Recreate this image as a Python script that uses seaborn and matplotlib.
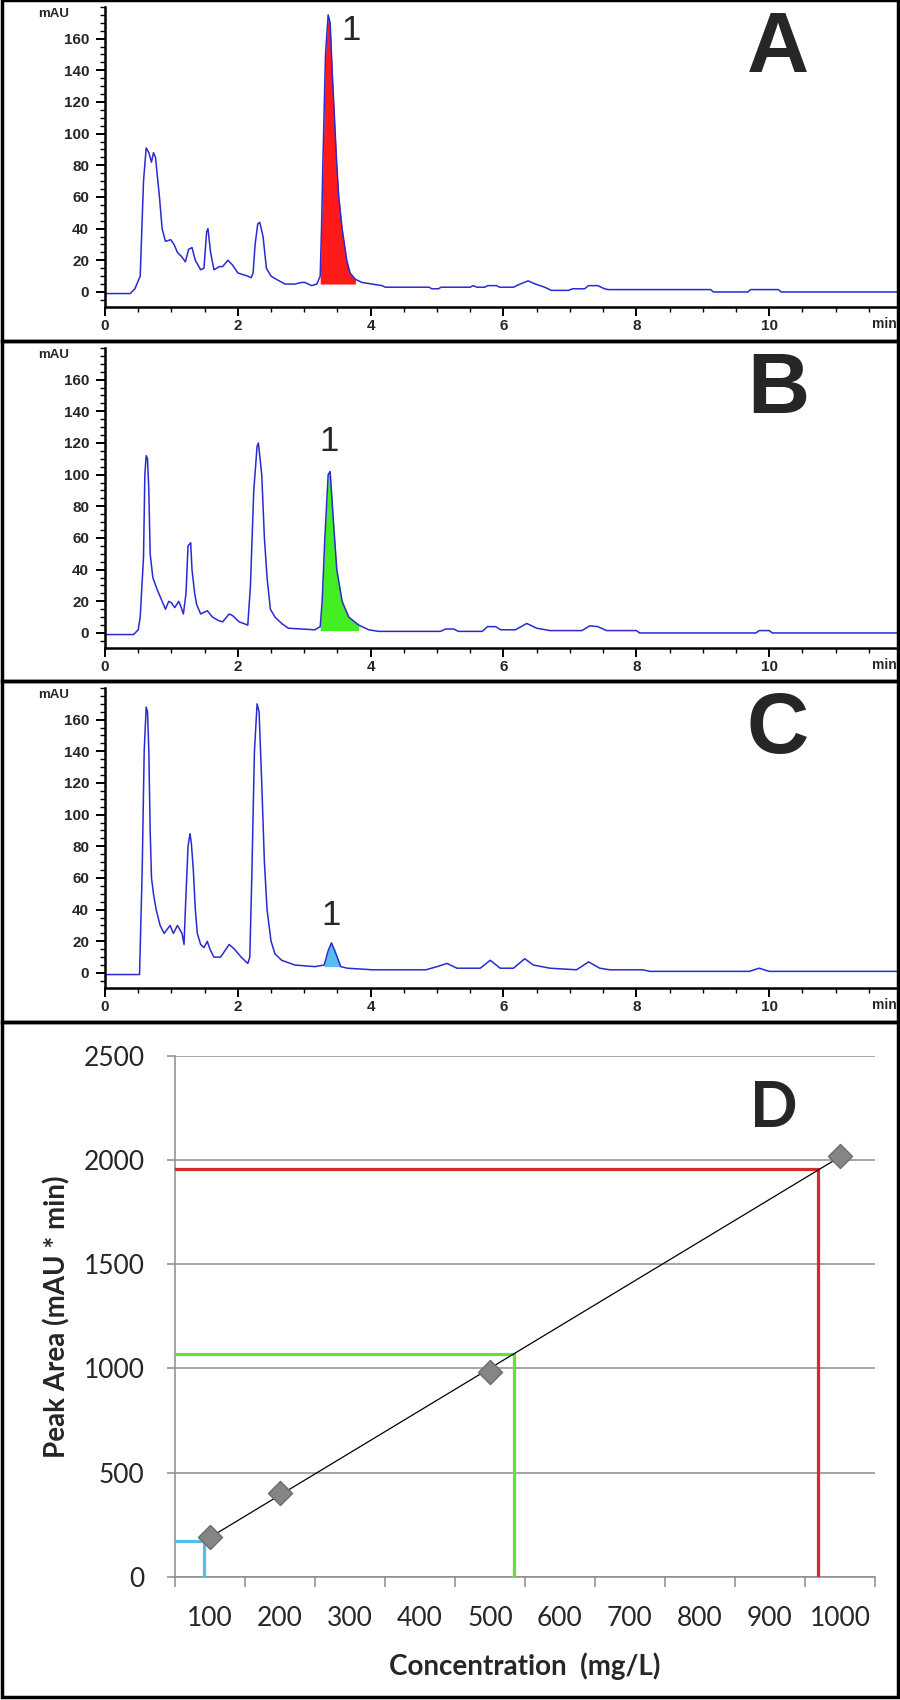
import numpy as np
import matplotlib
matplotlib.use("Agg")
import matplotlib.pyplot as plt
import matplotlib.ticker as mticker
from matplotlib.patches import Rectangle
import seaborn as sns

# chromatograms, (time min, absorbance mAU)
trace_a = [(0, -1), (0.38, -1), (0.45, 2), (0.53, 10), (0.58, 70), (0.62, 91), (0.66, 88),
           (0.70, 82), (0.73, 88), (0.76, 85), (0.82, 60), (0.86, 40), (0.91, 32), (0.99, 33),
           (1.04, 30), (1.09, 25), (1.16, 22), (1.21, 19), (1.26, 27), (1.31, 28), (1.36, 20),
           (1.44, 14), (1.49, 15), (1.53, 38), (1.55, 40), (1.59, 25), (1.64, 14), (1.72, 16),
           (1.77, 16), (1.85, 20), (1.92, 17), (2.00, 12), (2.15, 10), (2.20, 9), (2.23, 12),
           (2.26, 30), (2.30, 43), (2.33, 44), (2.38, 35), (2.43, 15), (2.50, 10), (2.58, 8),
           (2.71, 5), (2.86, 5), (2.96, 6), (3.01, 6), (3.11, 4), (3.19, 5), (3.24, 10),
           (3.26, 40), (3.28, 80), (3.32, 150), (3.36, 175), (3.39, 170), (3.42, 140),
           (3.49, 80), (3.52, 60), (3.57, 40), (3.64, 20), (3.69, 12), (3.77, 8), (3.87, 6),
           (4.02, 5), (4.17, 4), (4.22, 3), (4.88, 3), (4.92, 2), (5.02, 2), (5.06, 3),
           (5.50, 3), (5.54, 4), (5.60, 3), (5.72, 3), (5.76, 4), (5.90, 4), (5.94, 3),
           (6.15, 3), (6.25, 5), (6.37, 7), (6.48, 5), (6.62, 3), (6.72, 1), (6.98, 1),
           (7.04, 2), (7.22, 2), (7.28, 4), (7.42, 4), (7.52, 2), (7.58, 1.5), (9.12, 1.5),
           (9.16, 0), (9.68, 0), (9.72, 1.5), (10.14, 1.5), (10.18, 0), (12.1, 0)]

trace_b = [(0, -1), (0.43, -1), (0.50, 2), (0.53, 10), (0.58, 48), (0.60, 100), (0.62, 112),
           (0.64, 110), (0.66, 90), (0.68, 50), (0.72, 35), (0.78, 28), (0.86, 20), (0.91, 15),
           (0.96, 20), (1.00, 19), (1.05, 16), (1.11, 20), (1.14, 17), (1.18, 12), (1.22, 25),
           (1.25, 55), (1.29, 57), (1.31, 40), (1.35, 25), (1.38, 18), (1.44, 12), (1.54, 14),
           (1.62, 10), (1.70, 8), (1.77, 7), (1.87, 12), (1.92, 11), (2.02, 7), (2.15, 5),
           (2.19, 30), (2.24, 90), (2.29, 118), (2.31, 120), (2.36, 100), (2.40, 60),
           (2.44, 35), (2.49, 15), (2.56, 10), (2.66, 6), (2.76, 3), (3.16, 2), (3.24, 4),
           (3.27, 20), (3.31, 60), (3.36, 100), (3.39, 102), (3.44, 70), (3.49, 40),
           (3.57, 20), (3.67, 10), (3.82, 5), (3.97, 2), (4.12, 1), (5.05, 1), (5.13, 2.5),
           (5.25, 2.5), (5.32, 1), (5.68, 1), (5.76, 4), (5.88, 4), (5.96, 2), (6.18, 2),
           (6.35, 6), (6.50, 3), (6.70, 1.5), (7.18, 1.5), (7.30, 4.5), (7.42, 4), (7.55, 1.5),
           (8.00, 1.5), (8.05, 0), (9.80, 0), (9.85, 1.5), (10.00, 1.5), (10.05, 0), (12.1, 0)]

trace_c = [(0, -1), (0.52, -1), (0.56, 65), (0.59, 140), (0.62, 168), (0.64, 165), (0.66, 140),
           (0.68, 90), (0.70, 60), (0.73, 50), (0.77, 40), (0.83, 30), (0.89, 25), (0.98, 30),
           (1.03, 25), (1.09, 30), (1.16, 25), (1.19, 18), (1.21, 40), (1.25, 80), (1.28, 88),
           (1.30, 82), (1.33, 65), (1.36, 40), (1.39, 25), (1.44, 18), (1.49, 16), (1.54, 20),
           (1.58, 15), (1.64, 10), (1.74, 10), (1.87, 18), (1.95, 15), (2.05, 10), (2.15, 6),
           (2.18, 10), (2.21, 60), (2.25, 140), (2.29, 170), (2.32, 165), (2.36, 120),
           (2.40, 70), (2.44, 40), (2.50, 20), (2.56, 12), (2.66, 8), (2.86, 5), (3.16, 4),
           (3.30, 5), (3.36, 14), (3.41, 19), (3.46, 14), (3.55, 4), (3.65, 3), (4.03, 2),
           (4.83, 2), (5.00, 4), (5.15, 6), (5.30, 3), (5.65, 3), (5.80, 8), (5.95, 3),
           (6.15, 3), (6.32, 9), (6.45, 5), (6.70, 3), (7.10, 2), (7.28, 7), (7.45, 3),
           (7.60, 2), (8.10, 2), (8.20, 1), (9.70, 1), (9.85, 3), (10.00, 1), (12.1, 1)]

# integrated peak 1: (start, end, baseline)
peak_a = (3.21, 3.84, 5)
peak_b = (3.22, 3.90, 1.5)
peak_c = (3.30, 3.56, 4)

# calibration
conc_labels = ["100", "200", "300", "400", "500", "600", "700", "800", "900", "1000"]
std_conc = ["100", "200", "500", "1000"]
std_area = [190, 403, 985, 2020]
sample_area = [172, 1071, 1958]
sample_pos = [0.91, 5.34, 9.68]  # position on the category axis where each sample meets the line
sample_colors = ["#55bdec", "#66e03a", "#d82a2a"]

sns.set_style("ticks")
plt.rcParams["font.family"] = ["Liberation Sans", "DejaVu Sans"]

fig = plt.figure(figsize=(9, 17), dpi=100)
H = 1700.0

chroms = [
    ("A", trace_a, peak_a, "#ff1a1a", 0, (3.70, 159)),
    ("B", trace_b, peak_b, "#44ee22", 341, (3.38, 115)),
    ("C", trace_c, peak_c, "#55c0f0", 681, (3.40, 30)),
]

for letter, trace, peak, fillc, top, lab1 in chroms:
    t = np.array([p[0] for p in trace])
    y = np.array([p[1] for p in trace])
    ax = fig.add_axes([105 / 900, 1 - (top + 307) / H, 795 / 900, 300 / H])
    mask = (t >= peak[0]) & (t <= peak[1])
    ax.fill_between(t, y, peak[2], where=mask, color=fillc, lw=0, zorder=1)
    sns.lineplot(x=t, y=y, ax=ax, color="#2a2ad2", lw=1.1, estimator=None, sort=False, zorder=2)
    ax.set_xlim(0, 11.97)
    ax.set_ylim(-9.5, 180)
    ax.set_xlabel("")
    ax.set_ylabel("")
    ax.set_xticks(range(0, 11, 2))
    ax.set_yticks(range(0, 161, 20))
    ax.xaxis.set_minor_locator(mticker.MultipleLocator(0.5))
    ax.yaxis.set_minor_locator(mticker.MultipleLocator(5))
    for s in ["top", "right"]:
        ax.spines[s].set_visible(False)
    for s in ["left", "bottom"]:
        ax.spines[s].set_linewidth(1.8)
        ax.spines[s].set_color("black")
    ax.tick_params(which="major", length=6.5, width=1.4, labelsize=11, color="black")
    ax.tick_params(axis="y", which="major", pad=5)
    ax.tick_params(axis="x", which="major", pad=2)
    ax.tick_params(which="minor", length=3.5, width=1.0, color="black")
    plt.setp(ax.get_xticklabels() + ax.get_yticklabels(), fontweight="bold")
    ax.text(-0.065, 0.977, "mAU", transform=ax.transAxes, ha="center", va="center",
            fontsize=9.5, fontweight="bold")
    ax.text(0.996, -0.056, "min", transform=ax.transAxes, ha="right", va="center",
            fontsize=10, fontweight="bold")
    ax.text(lab1[0], lab1[1], "1", ha="center", va="baseline", fontsize=25)
    fig.text(778 / 900, 1 - (top + 72) / H, letter, ha="center", va="baseline",
             fontsize=62, fontweight="bold")

# panel D: calibration curve
pos = [conc_labels.index(c) + 1 for c in std_conc]
axd = fig.add_axes([175 / 900, 1 - 1577 / H, 700 / 900, 521.5 / H])
for p, a, c in zip(sample_pos, sample_area, sample_colors):
    axd.plot([0.5, p], [a, a], color=c, lw=2.3, zorder=3)
    axd.plot([p, p], [0, a], color=c, lw=2.3, zorder=3)
sns.regplot(x=pos, y=std_area, ax=axd, ci=None, scatter=False, truncate=True,
            line_kws=dict(color="black", lw=0.9, zorder=4))
sns.scatterplot(x=pos, y=std_area, ax=axd, marker="D", s=150, color="#858585",
                edgecolor="#6c6c6c", linewidth=1, zorder=5)
axd.set_xlim(0.5, 10.5)
axd.set_ylim(0, 2500)
axd.set_yticks(range(0, 2501, 500))
axd.yaxis.grid(True, color="#8c8c8c", lw=1.1)
axd.xaxis.set_major_locator(mticker.FixedLocator(np.arange(0.5, 11, 1)))
axd.xaxis.set_major_formatter(mticker.NullFormatter())
axd.xaxis.set_minor_locator(mticker.FixedLocator(range(1, 11)))
axd.xaxis.set_minor_formatter(mticker.FixedFormatter(conc_labels))
axd.tick_params(axis="x", which="major", length=7.5, width=1.1, color="#8c8c8c")
axd.tick_params(axis="x", which="minor", length=0, pad=21, labelsize=19)
axd.tick_params(axis="y", which="major", length=6, width=1.1, color="#8c8c8c",
                labelsize=19, pad=16)
for s in ["top", "right"]:
    axd.spines[s].set_visible(False)
for s in ["left", "bottom"]:
    axd.spines[s].set_color("#8c8c8c")
    axd.spines[s].set_linewidth(1.1)
plt.setp(axd.get_yticklabels() + axd.get_xticklabels(minor=True), family=["Lato", "DejaVu Sans"])
axd.set_ylabel("Peak Area (mAU * min)", fontsize=20, fontweight="bold",
               family=["Lato", "DejaVu Sans"])
axd.set_xlabel("Concentration  (mg/L)", fontsize=20, fontweight="bold",
               family=["Lato", "DejaVu Sans"])
axd.yaxis.set_label_coords(-0.15, 0.5)
axd.xaxis.set_label_coords(0.5, -0.145)
fig.text(774 / 900, 1 - 1127 / H, "D", ha="center", va="baseline", fontsize=45,
         fontweight="bold", family=["Lato", "DejaVu Sans"])

# panel frames
for y0, y1 in [(0, 341), (341, 681), (681, 1022), (1022, 1697)]:
    fig.add_artist(Rectangle((0.002, 1 - y1 / H), 0.996, (y1 - y0) / H, fill=False,
                             lw=2.5, edgecolor="black", transform=fig.transFigure))

fig.savefig("out.png", dpi=100)
